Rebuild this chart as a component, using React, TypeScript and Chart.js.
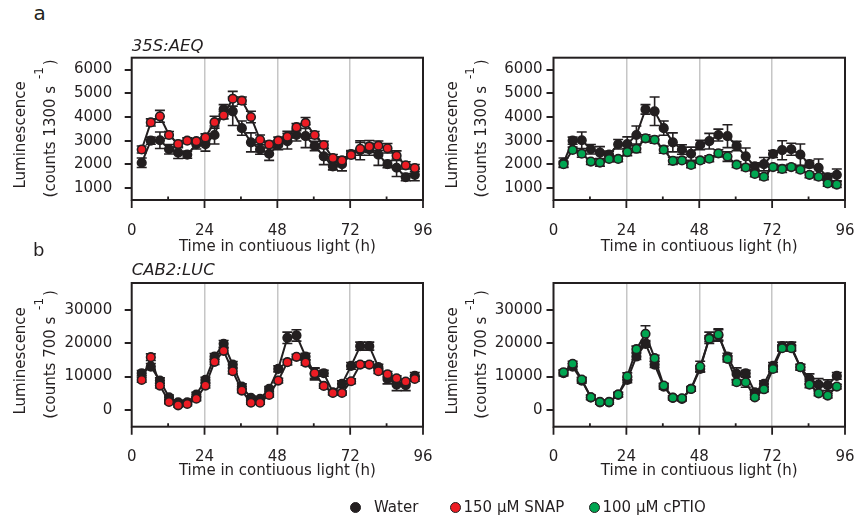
import React, { useEffect, useRef } from "react";
import { Chart, registerables } from "chart.js";

Chart.register(...registerables);

const FONT = "'DejaVu Sans', 'Noto Sans', sans-serif";
const INK = "#231f20";
const RED = "#ed1c24";
const GREEN = "#00a651";
const GRID = "#c6c6c6";

// ---------- data ----------
const timeH = [3.3, 6.3, 9.3, 12.3, 15.3, 18.3, 21.3, 24.3, 27.3, 30.3, 33.3, 36.3, 39.3, 42.3, 45.3, 48.3, 51.3, 54.3, 57.3, 60.3, 63.3, 66.3, 69.3, 72.3, 75.3, 78.3, 81.3, 84.3, 87.3, 90.3, 93.3];
const xTickValues = [0, 24, 48, 72, 96];
const xMinorValues = [12, 36, 60, 84];
const xGridValues = [24, 48, 72];
const aeqTickValues = [1000, 2000, 3000, 4000, 5000, 6000];
const lucTickValues = [0, 10000, 20000, 30000];

const aeqWater = [2070, 3000, 3020, 2640, 2500, 2410, 2850, 2860, 3240, 4320, 4240, 3530, 2930, 2630, 2450, 2820, 2980, 3240, 3190, 2780, 2340, 1920, 2010, 2440, 2600, 2640, 2410, 2010, 1860, 1460, 1560];
const aeqWaterSE = [200, 150, 350, 200, 250, 150, 200, 300, 380, 200, 600, 300, 400, 200, 280, 200, 330, 250, 480, 200, 350, 150, 280, 150, 400, 250, 450, 150, 370, 150, 250];
const aeqSnap = [2630, 3770, 4030, 3240, 2860, 3000, 2980, 3140, 3780, 4070, 4770, 4690, 4000, 3040, 2840, 3000, 3170, 3570, 3750, 3240, 2820, 2270, 2170, 2400, 2660, 2760, 2790, 2680, 2370, 1960, 1850];
const aeqSnapSE = [150, 150, 250, 150, 150, 120, 120, 150, 250, 150, 310, 150, 240, 200, 150, 150, 230, 150, 230, 150, 150, 150, 150, 150, 270, 250, 200, 200, 200, 150, 150];
const aeqCptio = [2010, 2610, 2450, 2120, 2080, 2230, 2230, 2520, 2660, 3100, 3040, 2620, 2150, 2170, 1980, 2170, 2240, 2470, 2330, 1990, 1870, 1600, 1480, 1890, 1810, 1890, 1780, 1560, 1480, 1200, 1150];
const aeqCptioSE = [120, 120, 150, 120, 150, 120, 120, 150, 150, 150, 150, 150, 150, 120, 120, 120, 120, 150, 200, 120, 120, 120, 120, 120, 150, 120, 120, 120, 120, 120, 120];

const lucWater = [11000, 13000, 8800, 3800, 2300, 2300, 4600, 9000, 16000, 19800, 13600, 7000, 3600, 3300, 6300, 12300, 21600, 22300, 16000, 10800, 11000, 5300, 7800, 13200, 19100, 19100, 12800, 9300, 7600, 7400, 10200];
const lucWaterSE = [800, 900, 800, 700, 600, 600, 700, 800, 900, 1000, 900, 800, 600, 600, 700, 900, 1700, 1700, 1000, 1800, 900, 700, 900, 1000, 1200, 1200, 900, 1500, 1800, 1600, 1000];
const lucSnap = [9000, 15800, 7300, 2400, 1400, 1800, 3400, 7300, 14400, 17700, 11600, 5800, 2200, 2200, 4500, 8800, 14300, 15900, 14200, 11000, 7200, 5100, 5100, 8600, 13600, 13600, 11600, 10700, 9500, 8500, 9300];
const lucSnapSE = [700, 1000, 700, 500, 500, 500, 600, 700, 800, 800, 800, 600, 500, 500, 600, 700, 800, 800, 800, 1500, 700, 500, 600, 700, 800, 800, 700, 800, 700, 700, 700];
const lucCptio = [11300, 13800, 9100, 3800, 2400, 2400, 4600, 10100, 18200, 22800, 15500, 7300, 3700, 3500, 6300, 13000, 21300, 22600, 15300, 8300, 8300, 3800, 6200, 12300, 18500, 18500, 12800, 7600, 5000, 4300, 7000];
const lucCptioSE = [700, 800, 700, 600, 500, 500, 600, 1000, 900, 2400, 900, 700, 500, 500, 600, 1600, 900, 1700, 900, 800, 1500, 600, 700, 900, 900, 900, 800, 900, 700, 700, 700];

const xTitle = "Time in contiuous light (h)";
const yTitle = "Luminescence";

type PanelCfg = {
  id: string;
  cx: number; cy: number; cw: number; ch: number;
  L: number; R: number; T: number; B: number;
  yMin: number; yMax: number; yTicks: number[];
  tickPad: number; xPad: number;
  title?: string; titleBaseline?: number;
  yLine1: number; yLine2: number; unit: string;
  xTitleBaseline: number;
  treat: number[]; treatSE: number[]; treatColor: string; treatLabel: string;
  water: number[]; waterSE: number[];
};

const panels: PanelCfg[] = [
  {
    id: "aL", cx: 0, cy: 28, cw: 460, ch: 234, L: 131.7, R: 423, T: 57.7, B: 200,
    yMin: 500, yMax: 6500, yTicks: aeqTickValues, tickPad: 12.5, xPad: 22,
    title: "35S:AEQ", titleBaseline: 50.7, yLine1: 25, yLine2: 54.5, unit: "1300",
    xTitleBaseline: 250.5,
    treat: aeqSnap, treatSE: aeqSnapSE, treatColor: RED, treatLabel: "150 μM SNAP",
    water: aeqWater, waterSE: aeqWaterSE,
  },
  {
    id: "aR", cx: 432, cy: 28, cw: 460, ch: 234, L: 553.5, R: 845, T: 57.7, B: 200,
    yMin: 500, yMax: 6500, yTicks: aeqTickValues, tickPad: 4, xPad: 22,
    yLine1: 456.5, yLine2: 485.5, unit: "1300",
    xTitleBaseline: 250.5,
    treat: aeqCptio, treatSE: aeqCptioSE, treatColor: GREEN, treatLabel: "100 μM cPTIO",
    water: aeqWater, waterSE: aeqWaterSE,
  },
  {
    id: "bL", cx: 0, cy: 258, cw: 460, ch: 242, L: 131.7, R: 423, T: 283, B: 426.7,
    yMin: -5000, yMax: 38000, yTicks: lucTickValues, tickPad: 12.5, xPad: 21,
    title: "CAB2:LUC", titleBaseline: 275, yLine1: 25, yLine2: 54.5, unit: "700",
    xTitleBaseline: 474.5,
    treat: lucSnap, treatSE: lucSnapSE, treatColor: RED, treatLabel: "150 μM SNAP",
    water: lucWater, waterSE: lucWaterSE,
  },
  {
    id: "bR", cx: 432, cy: 258, cw: 460, ch: 242, L: 553.5, R: 845, T: 283, B: 426.7,
    yMin: -5000, yMax: 38000, yTicks: lucTickValues, tickPad: 4, xPad: 21,
    yLine1: 456.5, yLine2: 485.5, unit: "700",
    xTitleBaseline: 474.5,
    treat: lucCptio, treatSE: lucCptioSE, treatColor: GREEN, treatLabel: "100 μM cPTIO",
    water: lucWater, waterSE: lucWaterSE,
  },
];

function decor(p: PanelCfg) {
  return {
    id: "decor_" + p.id,
    beforeDatasetsDraw(chart: any) {
      const ctx = chart.ctx;
      const xs = chart.scales.x;
      const ys = chart.scales.y;
      ctx.save();
      ctx.strokeStyle = INK;
      ctx.lineWidth = 1.6;
      const series: [number[], number[]][] = [[p.water, p.waterSE], [p.treat, p.treatSE]];
      for (const [vals, se] of series) {
        vals.forEach((v, i) => {
          const x = xs.getPixelForValue(timeH[i]);
          const yTop = ys.getPixelForValue(v + se[i]);
          const yBot = ys.getPixelForValue(v - se[i]);
          ctx.beginPath();
          ctx.moveTo(x, yTop); ctx.lineTo(x, yBot);
          ctx.moveTo(x - 5, yTop); ctx.lineTo(x + 5, yTop);
          ctx.moveTo(x - 5, yBot); ctx.lineTo(x + 5, yBot);
          ctx.stroke();
        });
      }
      ctx.restore();
    },
    afterDraw(chart: any) {
      const ctx = chart.ctx;
      const a = chart.chartArea;
      const xs = chart.scales.x;
      ctx.save();
      ctx.strokeStyle = INK;
      ctx.lineWidth = 2;
      ctx.strokeRect(a.left, a.top, a.right - a.left, a.bottom - a.top);
      ctx.lineWidth = 1.8;
      ctx.beginPath();
      for (const t of xTickValues) {
        const x = xs.getPixelForValue(t);
        ctx.moveTo(x, a.bottom); ctx.lineTo(x, a.bottom + 8);
      }
      for (const t of xMinorValues) {
        const x = xs.getPixelForValue(t);
        ctx.moveTo(x, a.bottom); ctx.lineTo(x, a.bottom - 3.5);
      }
      ctx.stroke();

      ctx.fillStyle = INK;
      ctx.textBaseline = "alphabetic";
      ctx.font = `15px ${FONT}`;
      ctx.textAlign = "center";
      ctx.fillText(xTitle, (a.left + a.right) / 2, p.xTitleBaseline - p.cy);

      if (p.title) {
        ctx.font = `italic 16.5px ${FONT}`;
        ctx.textAlign = "left";
        ctx.fillText(p.title, p.L - p.cx, (p.titleBaseline || 0) - p.cy);
      }

      const midY = (a.top + a.bottom) / 2;
      ctx.save();
      ctx.translate(p.yLine1 - p.cx, midY + 6);
      ctx.rotate(-Math.PI / 2);
      ctx.font = `15px ${FONT}`;
      ctx.textAlign = "center";
      ctx.fillText(yTitle, 0, 0);
      ctx.restore();

      ctx.save();
      ctx.translate(p.yLine2 - p.cx, midY - 0.5);
      ctx.rotate(-Math.PI / 2);
      ctx.textAlign = "left";
      const main = `(counts ${p.unit} s `;
      ctx.font = `15px ${FONT}`;
      const w1 = ctx.measureText(main).width;
      const w3 = ctx.measureText(")").width;
      ctx.font = `12px ${FONT}`;
      const w2 = ctx.measureText("-1").width;
      const total = w1 + w2 + w3 + 4;
      let x = -total / 2;
      ctx.font = `15px ${FONT}`;
      ctx.fillText(main, x, 0);
      x += w1 + 2;
      ctx.font = `12px ${FONT}`;
      ctx.fillText("-1", x, -12);
      x += w2 + 2;
      ctx.font = `15px ${FONT}`;
      ctx.fillText(")", x, 0);
      ctx.restore();

      ctx.restore();
    },
  };
}

function Panel({ p }: { p: PanelCfg }) {
  const ref = useRef<HTMLCanvasElement | null>(null);
  useEffect(() => {
    if (!ref.current) return;
    const pts = (vals: number[]) => timeH.map((t, i) => ({ x: t, y: vals[i] }));
    const common = {
      borderColor: INK,
      borderWidth: 2,
      pointBorderColor: INK,
      pointBorderWidth: 1.6,
      pointRadius: 4.3,
      pointHoverRadius: 4.3,
      fill: false,
      tension: 0,
    };
    const chart = new Chart(ref.current, {
      type: "line",
      data: {
        datasets: [
          { ...common, label: p.treatLabel, data: pts(p.treat), pointBackgroundColor: p.treatColor, backgroundColor: p.treatColor, order: 0 },
          { ...common, label: "Water", data: pts(p.water), pointBackgroundColor: INK, backgroundColor: INK, order: 1 },
        ],
      },
      options: {
        animation: false,
        responsive: false,
        maintainAspectRatio: false,
        events: [],
        layout: { padding: { left: 0, top: p.T - p.cy, right: p.cx + p.cw - p.R, bottom: 0 } },
        plugins: { legend: { display: false }, tooltip: { enabled: false } },
        scales: {
          x: {
            type: "linear",
            min: 0,
            max: 96,
            afterBuildTicks: (s: any) => { s.ticks = xTickValues.map((v) => ({ value: v })); },
            afterFit: (s: any) => { s.height = p.cy + p.ch - p.B; },
            ticks: { font: { family: FONT, size: 15 }, color: INK, padding: p.xPad, maxRotation: 0, autoSkip: false, callback: (v: any) => String(v) },
            grid: {
              drawTicks: false,
              lineWidth: 1.5,
              color: (c: any) => (c.tick && xGridValues.includes(c.tick.value) ? GRID : "rgba(0,0,0,0)"),
            },
            border: { display: false },
          },
          y: {
            type: "linear",
            min: p.yMin,
            max: p.yMax,
            afterBuildTicks: (s: any) => { s.ticks = p.yTicks.map((v) => ({ value: v })); },
            afterFit: (s: any) => { s.width = p.L - p.cx; },
            ticks: { font: { family: FONT, size: 15 }, color: INK, padding: p.tickPad, autoSkip: false, callback: (v: any) => String(v) },
            grid: { drawOnChartArea: false, drawTicks: true, tickLength: 7, color: INK, lineWidth: 2 },
            border: { display: false },
          },
        },
      } as any,
      plugins: [decor(p)],
    });
    return () => chart.destroy();
  }, [p]);
  return (
    <canvas
      ref={ref}
      width={p.cw}
      height={p.ch}
      style={{ position: "absolute", left: p.cx, top: p.cy, width: p.cw, height: p.ch }}
    />
  );
}

function Txt({ x, baseline, size, children, italic }: { x: number; baseline: number; size: number; children: React.ReactNode; italic?: boolean }) {
  return (
    <div
      style={{
        position: "absolute",
        left: x,
        top: baseline - 0.846 * size,
        fontSize: size,
        lineHeight: `${size}px`,
        fontFamily: FONT,
        fontStyle: italic ? "italic" : "normal",
        color: INK,
        whiteSpace: "nowrap",
      }}
    >
      {children}
    </div>
  );
}

function Dot({ cx, cy, color }: { cx: number; cy: number; color: string }) {
  return (
    <div
      style={{
        position: "absolute",
        left: cx - 5.5,
        top: cy - 5.5,
        width: 11,
        height: 11,
        borderRadius: "50%",
        background: color,
        border: `1.6px solid ${INK}`,
        boxSizing: "border-box",
      }}
    />
  );
}

export default function App() {
  return (
    <div style={{ position: "absolute", left: 0, top: 0, width: 854, height: 522, overflow: "hidden", background: "#fff" }}>
      {panels.map((p) => (
        <Panel key={p.id} p={p} />
      ))}
      <Txt x={33.5} baseline={20} size={20}>a</Txt>
      <Txt x={33} baseline={256} size={18}>b</Txt>
      <Dot cx={355} cy={507} color={INK} />
      <Txt x={374} baseline={513} size={15}>Water</Txt>
      <Dot cx={455} cy={507} color={RED} />
      <Txt x={463.5} baseline={513} size={15}>150 μM SNAP</Txt>
      <Dot cx={594} cy={507} color={GREEN} />
      <Txt x={602.5} baseline={513} size={15}>100 μM cPTIO</Txt>
    </div>
  );
}
